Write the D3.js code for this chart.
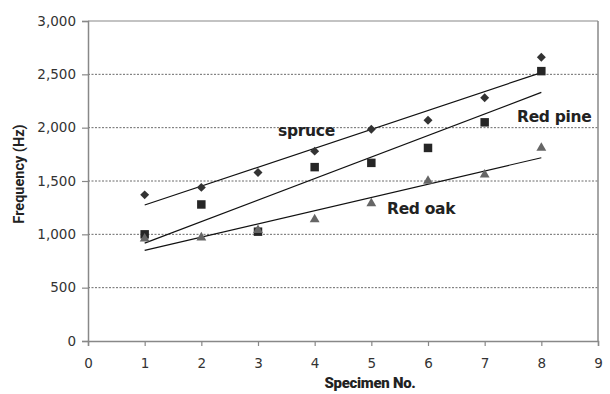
<!DOCTYPE html>
<html>
<head>
<meta charset="utf-8">
<script src="https://cdn.jsdelivr.net/npm/d3@7"></script>
<style>
  body { margin: 0; background: #fff; }
  .tick text { font-family: "DejaVu Sans", sans-serif; font-size: 13.5px; fill: #333; }
</style>
</head>
<body>
<div id="chart"></div>
<script>

// specimen numbers and measured frequencies (Hz)
const specimens = [1, 2, 3, 4, 5, 6, 7, 8];
const spruce  = [1370, 1440, 1580, 1780, 1985, 2070, 2280, 2660];
const redPine = [1000, 1280, 1025, 1630, 1670, 1810, 2050, 2530];
const redOak  = [960, 970, 1040, 1140, 1290, 1500, 1560, 1810];
const yTicks  = [0, 500, 1000, 1500, 2000, 2500, 3000];
const xTicks  = [0, 1, 2, 3, 4, 5, 6, 7, 8, 9];

const width = 610, height = 394;
const margin = {top: 21, right: 12, bottom: 53, left: 88};

const svg = d3.select("#chart").append("svg")
    .attr("width", width)
    .attr("height", height);

const x = d3.scaleLinear().domain([0, 9]).range([margin.left, width - margin.right]);
const y = d3.scaleLinear().domain([0, 3000]).range([height - margin.bottom, margin.top]);

// gridlines
svg.append("g")
    .selectAll("line")
    .data(yTicks.filter(d => d > 0 && d < 3000))
    .join("line")
    .attr("x1", x(0)).attr("x2", x(9))
    .attr("y1", d => y(d)).attr("y2", d => y(d))
    .attr("stroke", "#444")
    .attr("stroke-width", 0.8)
    .attr("stroke-dasharray", "2,1.5");

// frame (top + right)
svg.append("line")
    .attr("x1", x(0)).attr("x2", x(9))
    .attr("y1", y(3000)).attr("y2", y(3000))
    .attr("stroke", "#888").attr("stroke-width", 1.2);
svg.append("line")
    .attr("x1", x(9)).attr("x2", x(9))
    .attr("y1", y(3000)).attr("y2", y(0))
    .attr("stroke", "#888").attr("stroke-width", 1.5);

// axes
const yAxis = d3.axisLeft(y).tickValues(yTicks).tickFormat(d3.format(",")).tickSize(6).tickPadding(6);
const xAxis = d3.axisBottom(x).tickValues(xTicks).tickSize(5).tickPadding(12);

const gy = svg.append("g")
    .attr("transform", "translate(" + x(0) + ",0)")
    .call(yAxis);
const gx = svg.append("g")
    .attr("transform", "translate(0," + y(0) + ")")
    .call(xAxis);

[gy, gx].forEach(g => {
    g.select(".domain").attr("stroke", "#888").attr("stroke-width", 1.5);
    g.selectAll(".tick line").attr("stroke", "#888").attr("stroke-width", 1.2);
});

// axis titles
svg.append("text")
    .attr("transform", "translate(24," + 174 + ") rotate(-90)")
    .attr("text-anchor", "middle")
    .attr("font-family", "Roboto, sans-serif")
    .attr("font-weight", "bold")
    .attr("font-size", 14.5)
    .attr("fill", "#222")
    .text("Frequency (Hz)");

svg.append("text")
    .attr("x", 370).attr("y", 388)
    .attr("text-anchor", "middle")
    .attr("font-family", "Roboto, sans-serif")
    .attr("font-weight", "900")
    .attr("font-size", 15)
    .attr("letter-spacing", -0.3)
    .attr("fill", "#222")
    .text("Specimen No.");

// linear trendline from least squares fit
function trend(vals) {
    const mx = d3.mean(specimens), my = d3.mean(vals);
    const sxy = d3.sum(specimens, (s, i) => (s - mx) * (vals[i] - my));
    const sxx = d3.sum(specimens, s => (s - mx) * (s - mx));
    const b = sxy / sxx, a = my - b * mx;
    const x0 = d3.min(specimens), x1 = d3.max(specimens);
    return [[x0, a + b * x0], [x1, a + b * x1]];
}

const line = d3.line().x(d => x(d[0])).y(d => y(d[1]));

const series = [
    {name: "spruce", values: spruce, symbol: d3.symbolSquare, size: 40, rot: 45, color: "#333"},
    {name: "Red pine", values: redPine, symbol: d3.symbolSquare, size: 72, rot: 0, color: "#262626"},
    {name: "Red oak", values: redOak, symbol: d3.symbolTriangle, size: 42, rot: 0, color: "#666"}
];

series.forEach(s => {
    svg.append("path")
        .datum(trend(s.values))
        .attr("d", line)
        .attr("fill", "none")
        .attr("stroke", "#111")
        .attr("stroke-width", 1.2);
});

series.forEach(s => {
    svg.append("g")
        .selectAll("path")
        .data(s.values)
        .join("path")
        .attr("transform", (d, i) => "translate(" + x(specimens[i]) + "," + y(d) + ") rotate(" + s.rot + ")")
        .attr("d", d3.symbol().type(s.symbol).size(s.size))
        .attr("fill", s.color);
});

// series labels
const labels = [
    {text: "spruce", px: 278, py: 136},
    {text: "Red pine", px: 517, py: 122},
    {text: "Red oak", px: 387, py: 214}
];
svg.append("g")
    .selectAll("text")
    .data(labels)
    .join("text")
    .attr("x", d => d.px).attr("y", d => d.py)
    .attr("font-family", "'DejaVu Sans', sans-serif")
    .attr("font-weight", "bold")
    .attr("font-size", 15.5)
    .attr("letter-spacing", -0.3)
    .attr("fill", "#222")
    .text(d => d.text);

</script>
</body>
</html>
